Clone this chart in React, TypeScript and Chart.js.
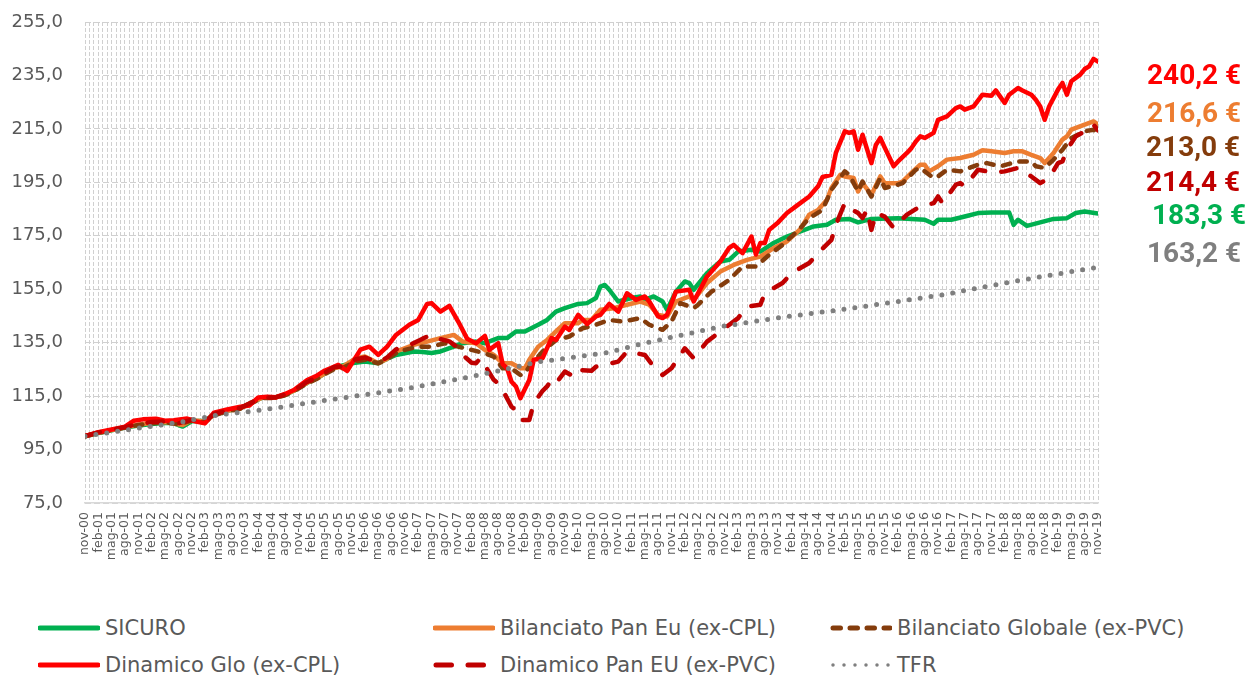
import React, { useEffect, useRef } from 'react';
import { Chart, registerables } from 'chart.js';

Chart.register(...registerables);

// x = months since nov-00 (0) up to nov-19 (228)
const sicuro: [number, number][] = [
  [0, 100], [3, 101.2], [6, 102.2], [9, 103.2], [12, 104], [15, 104.6], [18, 105], [20, 104.8], [22, 103.6],
  [24, 105.6], [27, 105.8], [29, 108], [32, 109.5], [35, 110.5], [38, 113], [40, 114.5], [43, 114.6], [45, 115.5],
  [47, 117], [50, 120], [52, 121.5], [54, 123.5], [56, 125.5], [58, 126.5], [60, 127.3], [63, 127.9], [66, 127.3],
  [68, 129], [70, 130.4], [74, 131.7], [76, 131.5], [78, 131.1], [80, 131.7], [83, 133.5], [85, 134.8], [88, 135.4],
  [90, 134.8], [93, 136.7], [95, 136.7], [97, 139.2], [99, 139.2], [102, 141.7], [104, 143.5], [106, 146.6],
  [108, 147.9], [111, 149.5], [113, 149.8], [115, 151.7], [116, 156], [117, 156.6], [118, 154.8], [120, 150.4],
  [123, 151.7], [125, 152.3], [126, 151], [128, 152.3], [130, 150.4], [131, 147.3], [133, 154.1], [135, 157.9],
  [136, 157.3], [137, 154.8], [140, 161], [143, 165.4], [145, 166], [147, 169.1], [150, 169.8], [152, 169.1],
  [155, 172.3], [158, 174.7], [161, 176.6], [164, 178.5], [167, 179.1], [169, 181], [172, 181.3], [174, 180],
  [177, 181.3], [183, 181.6], [189, 181], [191, 179.5], [192, 181], [195, 181], [198, 182.2], [201, 183.5],
  [204, 183.7], [208, 183.7], [209, 179.1], [210, 181], [212, 178.7], [215, 180], [218, 181.3], [221, 181.6],
  [223, 183.5], [225, 184.1], [228, 183.3],
];

const bilanciatoPanEu: [number, number][] = [
  [0, 100], [3, 101.3], [6, 102.3], [9, 103.3], [12, 104.3], [15, 105], [18, 105.3], [21, 104.5], [22, 104.2],
  [24, 106], [27, 105.5], [29, 108], [32, 109.5], [35, 110.5], [38, 113], [40, 114.5], [43, 114.5], [45, 115.5],
  [47, 117], [50, 120], [52, 121.5], [54, 123.5], [56, 125.5], [58, 126], [61, 129.2], [63, 129.8], [66, 127.3],
  [68, 129], [70, 131.7], [74, 134.2], [77, 135.4], [80, 136.7], [83, 137.9], [85, 135.4], [88, 134.8], [90, 132.3],
  [92, 130.4], [94, 127.3], [96, 127.3], [98, 125.4], [99, 125.4], [100, 128.6], [102, 133.5], [104, 136],
  [106, 139.2], [108, 142.3], [111, 142.3], [112, 143.5], [114, 143.5], [116, 147.3], [119, 147.9], [122, 149.2],
  [125, 150.4], [127, 149.2], [129, 145.4], [131, 144.8], [133, 150.4], [136, 152.3], [137, 151], [140, 157.3],
  [143, 161.6], [146, 164.1], [149, 166], [152, 167.2], [155, 170.4], [158, 172.9], [161, 177.5], [163, 182.9],
  [165, 184.7], [167, 188.5], [168, 192.9], [170, 197.8], [171, 197.2], [173, 196.6], [174, 191.6], [175, 194.7],
  [177, 190.4], [179, 197.2], [180, 194.7], [183, 194.7], [184, 195.3], [186, 198.5], [188, 201.6], [189, 201.6],
  [190, 199.1], [192, 201], [194, 203.5], [197, 204.1], [200, 205.3], [202, 207], [204, 206.6], [207, 206],
  [209, 206.6], [211, 206.6], [213, 205.3], [215, 204.1], [216, 202.2], [218, 206], [220, 211], [221, 212.2],
  [222, 214.7], [225, 216.6], [227, 217.8], [228, 216.6],
];

const bilanciatoGlobale: [number, number][] = [
  [0, 100], [3, 101.2], [6, 102.2], [9, 103.2], [12, 104.2], [15, 104.8], [18, 105.2], [21, 104.5], [24, 105.8],
  [27, 105.2], [29, 107.8], [32, 109.3], [35, 110.3], [38, 112.8], [40, 114.3], [43, 114.3], [45, 115.3],
  [47, 116.8], [50, 119.8], [52, 121.3], [54, 123.2], [56, 125], [58, 125.5], [61, 128], [63, 128.6], [66, 127.3],
  [68, 128.8], [70, 131.1], [72, 132.3], [75, 133.5], [78, 133.5], [81, 134.8], [84, 133.5], [87, 132.3], [90, 131],
  [92, 129.8], [94, 125.4], [96, 125.4], [98, 122.9], [99, 123.5], [100, 126], [103, 131.7], [106, 136],
  [109, 137.3], [112, 140.4], [115, 141.7], [118, 143.5], [121, 142.9], [125, 144.2], [127, 141.7], [130, 139.8],
  [132, 142.9], [134, 149.8], [137, 147.9], [138, 149.2], [141, 154.1], [145, 158.5], [148, 163.5], [151, 163.5],
  [154, 167.9], [157, 171.6], [159, 174.7], [161, 177.9], [163, 181.6], [166, 184.7], [168, 192.2], [171, 199.1],
  [172, 197.8], [174, 191.6], [175, 195.3], [177, 189.7], [179, 196.6], [180, 192.9], [183, 194.1], [184, 194.7],
  [187, 199.7], [188, 200.4], [191, 196.6], [192, 197.2], [194, 199.7], [197, 199.1], [201, 201.6], [203, 202.2],
  [206, 201], [210, 202.8], [213, 202.8], [214, 201], [216, 200.4], [218, 203.5], [220, 207.2], [222, 211.6],
  [225, 214.1], [227, 214.7], [228, 213],
];

const dinamicoGlo: [number, number][] = [
  [0, 100], [3, 101.5], [6, 102.5], [9, 103.6], [11, 105.8], [13, 106.3], [16, 106.5], [18, 105.8], [20, 106],
  [23, 106.6], [25, 105.5], [27, 104.8], [29, 108.8], [32, 110], [35, 111], [37, 111.5], [39, 114.5], [41, 114.8],
  [43, 114.6], [45, 115.8], [47, 117.3], [50, 121], [52, 122.5], [54, 124.6], [56, 126], [57, 126.7], [59, 124.4],
  [62, 132.4], [64, 133.5], [66, 130.4], [68, 133.5], [70, 137.9], [73, 141.7], [75, 143.5], [77, 149.5],
  [78, 149.8], [80, 146.6], [82, 148.8], [84, 142.9], [86, 136.5], [88, 134.8], [90, 137.5], [91, 132.3],
  [93, 134.8], [94, 127], [95, 125.4], [96, 120.4], [97, 118.6], [98, 114.2], [100, 121], [101, 128.6], [103, 129.2],
  [105, 136.7], [106, 136], [108, 141], [109, 139.8], [111, 145.4], [113, 142], [115, 144.8], [116, 145.4],
  [118, 149.5], [120, 146.6], [122, 153.5], [124, 151], [126, 152.3], [127, 150.4], [129, 144.8], [130, 144.2],
  [131, 145.4], [133, 154.1], [136, 154.8], [137, 150.4], [140, 159.8], [143, 165.4], [145, 170.5], [146, 171.6],
  [148, 168.5], [150, 174.7], [151, 168], [152, 172.3], [153, 172.3], [154, 177.2], [156, 180], [158, 183.5],
  [160, 186], [163, 189.7], [165, 193.5], [166, 197], [168, 197.8], [169, 206], [171, 214.1], [172, 213.5],
  [173, 214.1], [174, 207.2], [175, 212.8], [177, 202.2], [178, 209], [179, 211.6], [180, 208], [182, 201],
  [183, 202.8], [185, 206], [186, 207.8], [187, 210.3], [188, 212.2], [189, 211.6], [191, 213.5], [192, 218.4],
  [194, 219.7], [196, 222.8], [197, 223.4], [198, 222.2], [200, 223.4], [202, 227.8], [204, 227.4], [205, 229.4],
  [207, 224.7], [208, 227.8], [210, 230.3], [211, 229.4], [213, 227.8], [214, 225.9], [215, 223.4], [216, 218.4],
  [217, 223.4], [219, 229.7], [220, 232.2], [221, 227.8], [222, 232.8], [224, 235.3], [225, 237.4], [226, 238.4],
  [227, 241.2], [228, 240.2],
];

const dinamicoPanEu: [number, number][] = [
  [0, 100], [3, 101.4], [6, 102.4], [9, 103.4], [12, 104.6], [15, 105.3], [18, 105.5], [21, 104.8], [24, 106.2],
  [27, 105.3], [29, 108.3], [32, 109.6], [35, 110.6], [38, 113], [40, 114.5], [43, 114.5], [45, 115.6], [47, 117.1],
  [50, 120.3], [52, 121.8], [54, 123.8], [56, 125.8], [58, 126.2], [61, 128.8], [63, 129.5], [66, 127.5],
  [68, 129.5], [70, 132.5], [73, 134], [76, 136.5], [78, 138], [79, 136.7], [82, 135.5], [84, 133], [85, 130.4],
  [87, 127.5], [88, 127.3], [89, 129.2], [90, 126.5], [92, 121.1], [93, 119.8], [94, 117.3], [96, 111], [97, 109.8],
  [98, 106.1], [100, 106.1], [101, 112.3], [103, 117], [104, 118.6], [105, 121.1], [106, 119.8], [108, 124.2],
  [110, 122.3], [111, 124.8], [114, 124.5], [115, 126], [117, 126.7], [120, 127.9], [122, 131.7], [126, 130.4],
  [128, 126], [130, 122.9], [132, 125.4], [135, 132.9], [137, 129.2], [140, 135.4], [143, 139.2], [147, 144.2],
  [149, 148.5], [152, 149.2], [153, 153.5], [157, 157.3], [159, 161], [163, 164.8], [165, 168.5], [168, 173.5],
  [169, 179.1], [171, 187.2], [172, 185.4], [174, 183.5], [175, 181.6], [176, 184.7], [177, 177.2], [178, 183.5],
  [180, 182.2], [182, 177.9], [185, 182.9], [188, 186], [191, 187.2], [192, 189.7], [193, 187.2], [196, 194.1],
  [197, 194.7], [198, 193.5], [201, 199.7], [203, 199.1], [204, 198.5], [207, 199.1], [210, 200.4], [213, 197.2],
  [215, 194.7], [217, 196.6], [219, 202.2], [220, 202.8], [221, 207.2], [223, 212.2], [225, 214.1], [227, 216.6],
  [228, 214.4],
];

const tfr: [number, number][] = [
  [0, 100], [12, 103], [22, 105.4], [30, 108], [37, 109.2], [45, 111.1], [52, 112.9], [60, 114.8], [72, 117.7],
  [87, 122.3], [94, 124.8], [102, 127.8], [112, 130], [117, 131.1], [126, 134.8], [143, 141], [158, 144.8],
  [161, 145.4], [171, 147.5], [178, 149.2], [193, 152.9], [207, 157.3], [222, 161.6], [228, 163.2],
];

const seriesNames = [
  'SICURO',
  'Bilanciato Pan Eu (ex-CPL)',
  'Bilanciato Globale (ex-PVC)',
  'Dinamico Glo (ex-CPL)',
  'Dinamico Pan EU (ex-PVC)',
  'TFR',
];
const seriesData = [sicuro, bilanciatoPanEu, bilanciatoGlobale, dinamicoGlo, dinamicoPanEu, tfr];
const seriesColors = ['#00b050', '#ed7d31', '#843c0c', '#ff0000', '#c00000', '#7f7f7f'];
const seriesDash: number[][] = [[], [], [7.5, 9.5], [], [15.5, 16.5], [0, 11]];

// x-axis labels (one every 3 months)
const quarterMonths = ['nov', 'feb', 'mag', 'ago'];
const tickLabels: string[] = Array.from({ length: 77 }, (_, k) =>
  `${quarterMonths[k % 4]}-${String(Math.floor((k + 3) / 4)).padStart(2, '0')}`
);

// final values shown at the right
const endTexts = ['240,2 €', '216,6 €', '213,0 €', '214,4 €', '183,3 €', '163,2 €'];
const endColors = ['#ff0000', '#ed7d31', '#843c0c', '#c00000', '#00b050', '#7f7f7f'];

const yMin = 75;
const yMax = 255;
const yStep = 20;

// layout
const endTops = [75, 113, 147, 182, 215, 253];
const endLefts = [1147, 1147, 1146, 1146, 1152, 1147];
const legendCols = [38, 433, 830];
const legendRows = [628, 665];

function LegendSample({ color, dash }: { color: string; dash: number[] }) {
  return (
    <svg width={62} height={10} style={{ display: 'block' }}>
      <line
        x1={dash.length ? 3 : 2}
        y1={5}
        x2={60}
        y2={5}
        stroke={color}
        strokeWidth={dash.length && dash[0] === 0 ? 3.5 : 5}
        strokeLinecap="round"
        strokeDasharray={dash.length ? dash.join(' ') : undefined}
      />
    </svg>
  );
}

export default function App() {
  const canvasRef = useRef<HTMLCanvasElement | null>(null);

  useEffect(() => {
    const canvas = canvasRef.current;
    if (!canvas) return;
    const chart = new Chart(canvas, {
      type: 'line',
      data: {
        datasets: seriesData.map((pts, i) => ({
          label: seriesNames[i],
          data: pts.map(([x, y]) => ({ x, y })),
          borderColor: seriesColors[i],
          backgroundColor: seriesColors[i],
          borderWidth: i === 5 ? 5 : 4.5,
          borderDash: seriesDash[i],
          borderCapStyle: 'round' as const,
          borderJoinStyle: 'round' as const,
          pointRadius: 0,
          pointHoverRadius: 0,
          tension: 0,
          fill: false,
          order: seriesData.length - 1 - i,
        })),
      },
      options: {
        responsive: false,
        maintainAspectRatio: false,
        animation: false,
        devicePixelRatio: 1,
        layout: { padding: { top: 22, right: 151, left: 0, bottom: 0 } },
        plugins: { legend: { display: false }, tooltip: { enabled: false } },
        scales: {
          x: {
            type: 'linear',
            min: 0,
            max: 228,
            ticks: {
              stepSize: 1,
              autoSkip: false,
              maxRotation: 90,
              minRotation: 90,
              padding: 9,
              color: '#595959',
              font: { family: 'DejaVu Sans', size: 12.5 },
              callback: (v: any) => {
                const n = Number(v);
                return n % 3 === 0 ? tickLabels[n / 3] : '';
              },
            },
            grid: { color: '#d0d0d0', lineWidth: 1, drawTicks: false },
            border: { display: true, color: '#d9d9d9', width: 1.5, dash: [4, 2] },
            afterFit: (s: any) => {
              s.height = 97;
            },
          },
          y: {
            min: yMin,
            max: yMax,
            ticks: {
              stepSize: yStep,
              padding: 2,
              color: '#595959',
              font: { family: 'DejaVu Sans', size: 18 },
              callback: (v: any) => Number(v).toFixed(1).replace('.', ','),
            },
            grid: { color: '#d0d0d0', lineWidth: 1, drawTicks: true, tickLength: 20, tickColor: 'rgba(0,0,0,0)' },
            border: { display: false, dash: [6, 3] },
            afterFit: (s: any) => {
              s.width = 85;
            },
          },
        },
      },
    });
    return () => chart.destroy();
  }, []);

  return (
    <div style={{ position: 'absolute', left: 0, top: 0, width: 1249, height: 678, background: '#fff' }}>
      <canvas ref={canvasRef} width={1249} height={600} style={{ display: 'block', width: 1249, height: 600 }} />
      {endTexts.map((t, i) => (
        <div
          key={t}
          style={{
            position: 'absolute',
            left: endLefts[i],
            top: endTops[i] - 14,
            fontFamily: 'Roboto',
            fontWeight: 700,
            fontSize: 28,
            lineHeight: '28px',
            color: endColors[i],
            whiteSpace: 'nowrap',
          }}
        >
          {t}
        </div>
      ))}
      {seriesNames.map((name, i) => {
        const col = i % 3;
        const row = Math.floor(i / 3);
        return (
          <div
            key={name}
            style={{
              position: 'absolute',
              left: legendCols[col],
              top: legendRows[row] - 12,
              height: 24,
              display: 'flex',
              alignItems: 'center',
              whiteSpace: 'nowrap',
            }}
          >
            <LegendSample color={seriesColors[i]} dash={seriesDash[i]} />
            <span
              style={{
                marginLeft: 5,
                fontFamily: 'DejaVu Sans',
                fontSize: 21,
                color: '#595959',
                lineHeight: '24px',
              }}
            >
              {name}
            </span>
          </div>
        );
      })}
    </div>
  );
}
